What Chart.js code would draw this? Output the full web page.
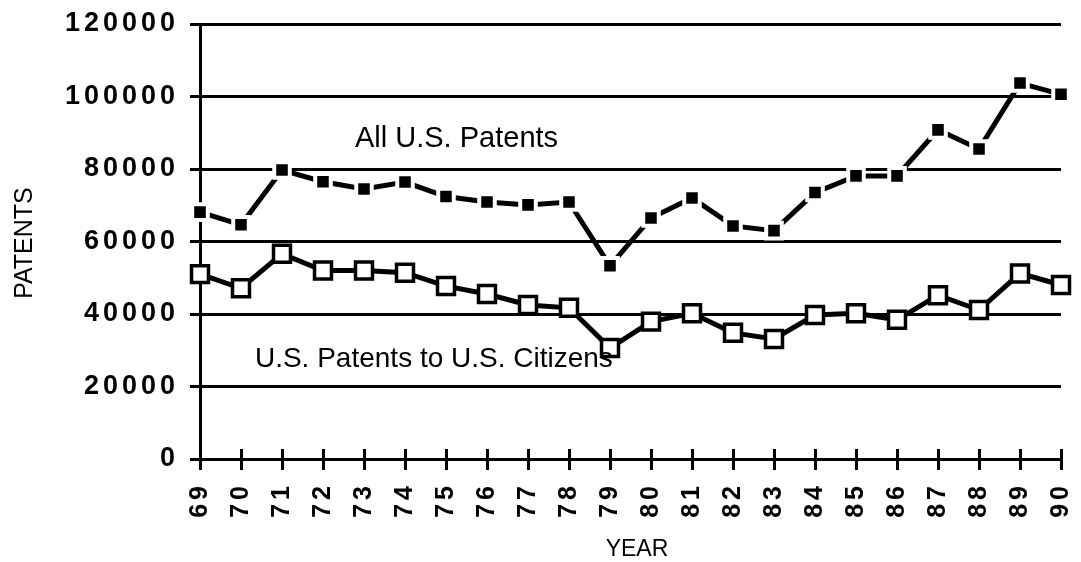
<!DOCTYPE html>
<html>
<head>
<meta charset="utf-8">
<script src="https://cdn.jsdelivr.net/npm/chart.js@4.4.1/dist/chart.umd.min.js"></script>
<style>
  html, body { margin: 0; padding: 0; background: #fff; }
  #wrap { width: 1081px; height: 562px; }
</style>
</head>
<body>
<div id="wrap"><canvas id="chart" width="1081" height="562"></canvas></div>
<script>
// years shown on the x axis (19xx)
const years = ['69','70','71','72','73','74','75','76','77','78','79',
               '80','81','82','83','84','85','86','87','88','89','90'];

// All U.S. patents (filled squares)
const allPatents = [68100, 64600, 79700, 76500, 74500, 76400, 72400, 70900, 70100, 70900, 53300,
                    66500, 72000, 64300, 63000, 73500, 78100, 78100, 90800, 85500, 103700, 100600];

// U.S. patents to U.S. citizens (open squares)
const citizenPatents = [51000, 47100, 56600, 52000, 52000, 51400, 47700, 45500, 42500, 41700, 30600,
                        37900, 40200, 34800, 33100, 39700, 40200, 38400, 45200, 41100, 51200, 48000];

const yTicks = [0, 20000, 40000, 60000, 80000, 100000, 120000];

const FONT = '"Liberation Sans", Arial, Helvetica, sans-serif';

// text labels, axis titles and the part of the x ticks above the axis
const extras = {
  id: 'extras',
  beforeDraw(chart){
    chart.ctx.letterSpacing = '4px';   // spaced digits on both axes
  },
  beforeDatasetsDraw(chart){
    const ctx = chart.ctx, x = chart.scales.x, y = chart.scales.y;
    const y0 = y.getPixelForValue(0);
    ctx.save();
    ctx.strokeStyle = '#000';
    ctx.lineWidth = 3;
    x.ticks.forEach((t, i) => {
      const px = Math.round(x.getPixelForTick(i)) + 0.5;
      ctx.beginPath();
      ctx.moveTo(px, y0 - 10);
      ctx.lineTo(px, y0);
      ctx.stroke();
    });
    ctx.restore();
  },
  afterDraw(chart){
    const ctx = chart.ctx, x = chart.scales.x, y = chart.scales.y;
    ctx.save();
    ctx.letterSpacing = '0px';
    ctx.fillStyle = '#000';
    ctx.textBaseline = 'alphabetic';
    ctx.textAlign = 'left';

    ctx.font = '29px ' + FONT;
    ctx.fillText('All U.S. Patents', x.getPixelForValue(3.78), y.getPixelForValue(86200));

    ctx.font = '28px ' + FONT;
    ctx.fillText('U.S. Patents to U.S. Citizens', x.getPixelForValue(1.34), y.getPixelForValue(25400));

    // axis titles
    ctx.textAlign = 'center';
    ctx.textBaseline = 'middle';
    ctx.font = '23px ' + FONT;
    ctx.fillText('YEAR', 637, 550);

    ctx.translate(25, 243);
    ctx.rotate(-Math.PI / 2);
    ctx.font = '25px ' + FONT;
    ctx.fillText('PATENTS', 0, 0);
    ctx.restore();
  }
};

new Chart(document.getElementById('chart'), {
  type: 'line',
  data: {
    labels: years,
    datasets: [
      {
        label: 'U.S. Patents to U.S. Citizens',
        data: citizenPatents,
        borderColor: '#000',
        borderWidth: 5,
        pointStyle: 'rect',
        pointRadius: 12,
        pointBackgroundColor: '#fff',
        pointBorderColor: '#000',
        pointBorderWidth: 3.5,
        tension: 0,
        clip: false
      },
      {
        label: 'All U.S. Patents',
        data: allPatents,
        borderColor: '#000',
        borderWidth: 5,
        pointStyle: 'rect',
        pointRadius: 11,
        pointBackgroundColor: '#000',
        pointBorderColor: '#fff',
        pointBorderWidth: 4,
        tension: 0,
        clip: false
      }
    ]
  },
  options: {
    responsive: false,
    animation: false,
    layout: { padding: { left: 0, right: 20, top: 24, bottom: 0 } },
    plugins: { legend: { display: false }, tooltip: { enabled: false } },
    scales: {
      x: {
        offset: false,
        afterFit(scale){ scale.height = 103; scale.paddingLeft = 0; scale.paddingRight = 0; },
        grid: { display: true, drawOnChartArea: false, drawTicks: true, tickLength: 11, lineWidth: 3, color: '#000' },
        border: { display: false },
        ticks: { color: '#000', font: { family: FONT, size: 25, weight: 'bold' }, minRotation: 90, maxRotation: 90, autoSkip: false, padding: 12 }
      },
      y: {
        min: 0,
        max: 120000,
        afterFit(scale){ scale.width = 200; scale.paddingTop = 0; scale.paddingBottom = 0; },
        afterBuildTicks(scale){ scale.ticks = yTicks.map(v => ({ value: v })); },
        grid: { color: '#000', lineWidth: 3, tickLength: 10 },
        border: { display: true, color: '#000', width: 3 },
        ticks: { color: '#000', font: { family: FONT, size: 27, weight: 'bold' }, padding: 11, callback: v => String(v) }
      }
    }
  },
  plugins: [extras]
});
</script>
</body>
</html>
